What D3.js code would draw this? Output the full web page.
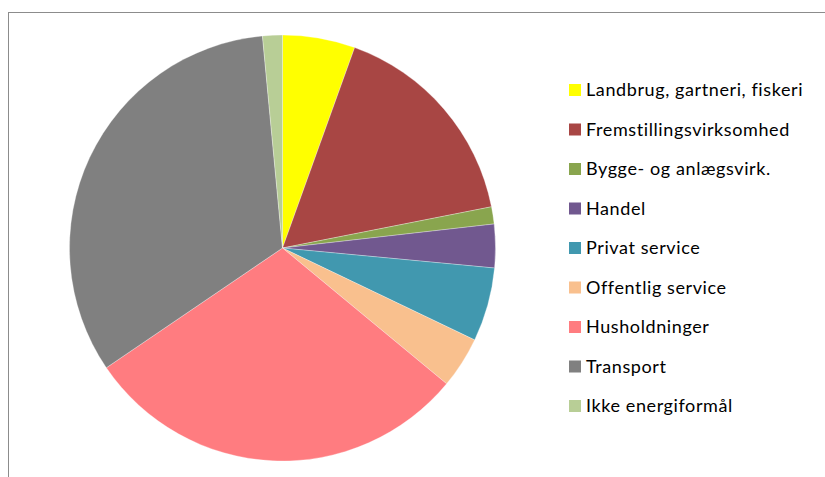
<!DOCTYPE html>
<html>
<head>
<meta charset="utf-8">
<script src="https://cdn.jsdelivr.net/npm/d3@7"></script>
<style>
  html, body { margin: 0; padding: 0; background: #fff; }
  svg { display: block; }
</style>
</head>
<body>
<svg id="chart" width="825" height="477"></svg>
<script>
// Energy use by sector (share, %)
const categories = [
  "Landbrug, gartneri, fiskeri",
  "Fremstillingsvirksomhed",
  "Bygge- og anlægsvirk.",
  "Handel",
  "Privat service",
  "Offentlig service",
  "Husholdninger",
  "Transport",
  "Ikke energiformål"
];
const values = [5.5, 16.4, 1.3, 3.3, 5.6, 3.9, 29.5, 33.0, 1.5];
const colors = ["#FFFF00", "#A84644", "#89A54E", "#71588F", "#4198AF",
                "#F9C08E", "#FF7C80", "#808080", "#B8CE96"];

const svg = d3.select("#chart");

// chart frame
svg.append("rect")
  .attr("x", 8.5).attr("y", 12.5)
  .attr("width", 830).attr("height", 480)
  .attr("fill", "none")
  .attr("stroke", "#8c8c8c")
  .attr("stroke-width", 1);

const cx = 282.5, cy = 248, r = 213;

const pie = d3.pie().sort(null).value(d => d.v);
const arc = d3.arc().innerRadius(0).outerRadius(r);
const data = categories.map((c, i) => ({ c, v: values[i] }));

const color = d3.scaleOrdinal().domain(categories).range(colors);

svg.append("g")
  .attr("transform", `translate(${cx},${cy})`)
  .selectAll("path")
  .data(pie(data))
  .join("path")
  .attr("d", arc)
  .attr("fill", d => color(d.data.c))
  .attr("stroke", "#ffffff")
  .attr("stroke-opacity", 0.5)
  .attr("stroke-width", 0.6);

// legend
const legendY = d3.scalePoint().domain(categories).range([90, 406]);
const items = svg.append("g").selectAll("g").data(categories).join("g")
  .attr("transform", d => `translate(569,${legendY(d)})`);
items.append("rect")
  .attr("x", 0).attr("y", -6)
  .attr("width", 12).attr("height", 12)
  .attr("fill", d => color(d));
items.append("text")
  .attr("x", 17).attr("y", 0)
  .attr("dy", "0.36em")
  .attr("font-family", "Lato, 'Open Sans', sans-serif")
  .attr("font-size", 18)
  .attr("letter-spacing", "0.6px")
  .attr("fill", "#000")
  .text(d => d);
</script>
</body>
</html>
